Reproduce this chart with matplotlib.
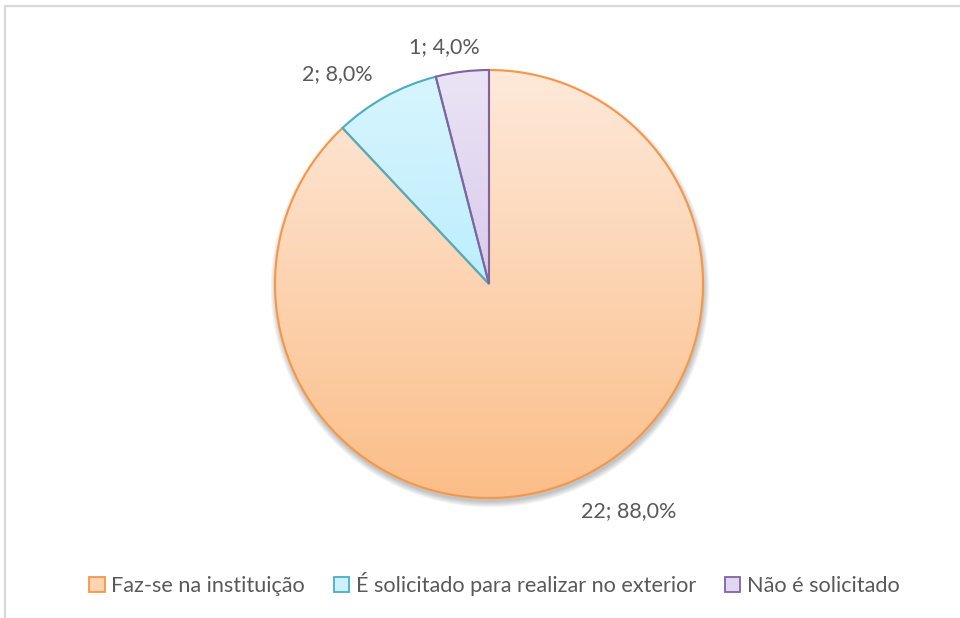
import matplotlib
matplotlib.use('Agg')
import matplotlib.pyplot as plt
import numpy as np
from matplotlib.patches import Patch, Rectangle, Circle
from matplotlib.colors import LinearSegmentedColormap

# Dados do gráfico
categories = ['Faz-se na instituição', 'É solicitado para realizar no exterior', 'Não é solicitado']
counts = [22, 2, 1]
percents = [88.0, 8.0, 4.0]

edge_colors = ['#F79646', '#4BACC6', '#8064A2']
grad_top = ['#FEE9DA', '#D8F5FE', '#EBE4F5']
grad_bottom = ['#FBBE88', '#BCEEFD', '#D9CAEC']
legend_fill = ['#FDD3B0', '#CBF1FD', '#E2D7F0']

W, H = 960, 618
text_color = '#595959'
plt.rcParams['font.family'] = ['Lato', 'DejaVu Sans']


def py(y):
    # converte y em pixels (topo=0) para coordenadas do eixo
    return H - y


fig = plt.figure(figsize=(W / 100, H / 100), dpi=100)
ax = fig.add_axes([0, 0, 1, 1])
ax.set_axis_off()

# moldura da área do gráfico (cortada à direita e em baixo)
ax.add_patch(Rectangle((5, py(700)), 1000, 694, fill=False, edgecolor='#D9D9D9', lw=1.6, zorder=0))

cx, cy, r = 489, py(284), 214

# sombra suave
for k in range(7):
    ax.add_patch(Circle((cx + 1, cy - 4), r + k * 0.9, facecolor='#000000', edgecolor='none',
                        alpha=0.035, zorder=1))

wedges, _ = ax.pie(counts, center=(cx, cy), radius=r, startangle=90, counterclock=False,
                   wedgeprops=dict(linewidth=1.5, joinstyle='miter'))

for w, ec, ct, cb in zip(wedges, edge_colors, grad_top, grad_bottom):
    w.set_facecolor('none')
    w.set_edgecolor(ec)
    w.set_zorder(3)
    ext = w.get_path().get_extents()
    cmap = LinearSegmentedColormap.from_list('g', [cb, ct])
    grad = np.linspace(0, 1, 256).reshape(-1, 1)
    im = ax.imshow(grad, extent=[ext.x0, ext.x1, ext.y0, ext.y1], origin='lower', cmap=cmap,
                   aspect='auto', zorder=2, interpolation='bilinear')
    im.set_clip_path(w)

# rótulos de dados
label_pos = [(629, 517), (337, 80), (444, 53)]
for c, p, (lx, ly) in zip(counts, percents, label_pos):
    txt = f"{c}; {p:.1f}%".replace('.', ',')
    ax.text(lx, py(ly), txt, ha='center', va='baseline', fontsize=15.5, color=text_color, zorder=5)

ax.set_xlim(0, W)
ax.set_ylim(0, H)
ax.set_aspect('auto')

handles = [Patch(facecolor=f, edgecolor=e, lw=1.3) for f, e in zip(legend_fill, edge_colors)]
fig.legend(handles, categories, loc='center', bbox_to_anchor=(494.5 / W, 1 - 584 / H), ncol=3,
           frameon=False, fontsize=15.6, handlelength=0.7, handleheight=0.7,
           handletextpad=0.3, columnspacing=1.35, labelcolor=text_color)

fig.savefig('out.png', dpi=100, facecolor='white')
